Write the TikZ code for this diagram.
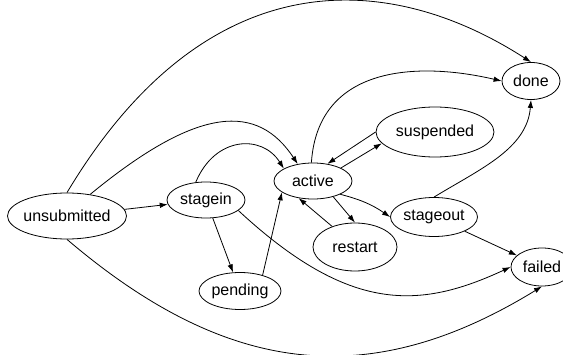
\documentclass[tikz,border=0pt]{standalone}
\usepackage{fontspec}
\setmainfont{Liberation Sans}
\usetikzlibrary{shapes, arrows.meta}

\begin{document}
\begin{tikzpicture}[>={Latex[length=8pt,width=5.5pt]}, x=1pt, y=1pt, line width=0.8pt]
  \tikzset{jobstate/.style={ellipse, draw, inner sep=0pt, font=\fontsize{16}{19}\selectfont}}
  \useasboundingbox (0,0) rectangle (563,354);

  % States
  \node (unsubmitted) at (67,138) [jobstate, inner xsep=-1.5pt, minimum width=118pt, minimum height=46pt] {unsubmitted};
  \node (stagein) at (206,154) [jobstate, minimum width=78pt, minimum height=36pt] {stagein};
  \node (pending) at (240,63) [jobstate, minimum width=82pt, minimum height=37pt] {pending};
  \node (active) at (313,173) [jobstate, minimum width=78pt, minimum height=36pt] {active};
  \node (suspended) at (435,222) [jobstate, minimum width=118pt, minimum height=50pt] {suspended};
  \node (done) at (531,273) [jobstate, minimum width=58pt, minimum height=37pt] {done};
  \node (restart) at (355,107) [jobstate, minimum width=84pt, minimum height=48pt] {restart};
  \node (stageout) at (434,137) [jobstate, minimum width=87pt, minimum height=39pt] {stageout};
  \node (failed) at (542,87) [jobstate, minimum width=62pt, minimum height=38pt] {failed};

  % from unsubmitted
  \draw[->] (unsubmitted.north) .. controls (205,392) and (385,386) .. (done.north);
  \draw[->] (unsubmitted.43) .. controls (200,250) and (258,250) .. (active.132);
  \draw[->] (unsubmitted) -- (stagein);
  \draw[->] (unsubmitted.south) .. controls (225,-20) and (367,-40) .. (failed.south);

  % from stagein
  \draw[->] (stagein.120) .. controls (215,218) and (262,220) .. (active.157);
  \draw[->] (stagein) -- (pending);
  \draw[->] (stagein.-18) .. controls (350,40) and (420,45) .. (failed.west);

  % pending
  \draw[->] (pending.35) -- (active.200);

  % from active
  \draw[->] (active.95) .. controls (318,290) and (420,292) .. (done.west);
  \draw[->] (active.25) -- (suspended.192);
  \draw[->] (suspended.west) -- (active.50);
  \draw[->] (active.-38) -- (restart.north);
  \draw[->] (restart.138) -- (active.230);
  \draw[->] (active.-26) to[bend left=10] (stageout.west);

  % from stageout
  \draw[->] (stageout.north) .. controls (480,185) and (527,205) .. (done.south);
  \draw[->] (stageout) -- (failed);
\end{tikzpicture}
\end{document}
